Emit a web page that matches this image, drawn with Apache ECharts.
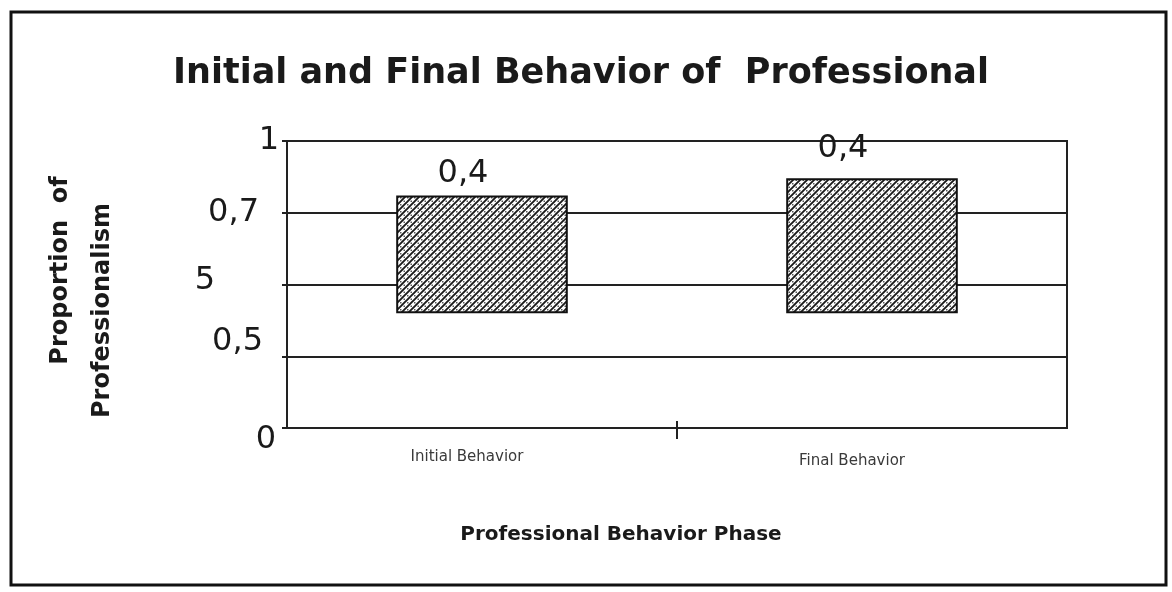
<!DOCTYPE html>
<html>
<head>
<meta charset="utf-8">
<script src="https://cdn.jsdelivr.net/npm/echarts@6/dist/echarts.min.js"></script>
<style>
  html, body { margin: 0; padding: 0; background: #fff; }
  #chart { width: 1172px; height: 592px; }
</style>
</head>
<body>
<div id="chart"></div>
<script>
// data
const categories = ['Initial Behavior', 'Final Behavior']
const barBase = [0.4, 0.4]       // floating bars start here
const barHeight = [0.41, 0.47]   // visible part of each bar
const barLabels = ['0,4', '0,4']
const yTicks = [0, 0.25, 0.5, 0.75, 1]
const yTickLabels = ['0', '0,5', '5', '0,7', '1']

// hatch pattern for the bars ("/" lines with dots between)
function makeHatch() {
  const s = 7
  const c = document.createElement('canvas')
  c.width = s
  c.height = s
  const g = c.getContext('2d')
  g.fillStyle = '#fff'
  g.fillRect(0, 0, s, s)
  g.strokeStyle = '#1a1a1a'
  g.lineWidth = 1.9
  g.beginPath()
  g.moveTo(-1, s + 1); g.lineTo(s + 1, -1)
  g.moveTo(-2, 2); g.lineTo(2, -2)
  g.moveTo(s - 2, s + 2); g.lineTo(s + 2, s - 2)
  g.stroke()
  g.fillStyle = '#555'
  g.fillRect(1, 1, 1.5, 1.5)
  g.fillRect(4.5, 4.5, 1.5, 1.5)
  return c
}

const numFont = 'DejaVu Sans'
const boldFont = 'DejaVu Sans'

// per-label nudges, the scan puts them slightly off the ticks
const tickRich = {
  t0: { padding: [24, 3, 0, 0] },
  t1: { padding: [0, 16, 30, 0] },
  t2: { padding: [0, 64, 8, 0] },
  t3: { padding: [0, 20, 0, 0] },
  t4: { padding: [0, 0, 0, 0] }
}
Object.keys(tickRich).forEach(k => {
  tickRich[k].fontSize = 32
  tickRich[k].fontFamily = numFont
  tickRich[k].color = '#1a1a1a'
})

// category labels sit a little left of the bar centres
const catRich = {
  c0: { padding: [0, 30, 0, 0] },
  c1: { padding: [4, 40, 0, 0] }
}
Object.keys(catRich).forEach(k => {
  catRich[k].fontSize = 15
  catRich[k].fontFamily = 'DejaVu Sans'
  catRich[k].color = '#3a3a3a'
})

// the two lines of the y title are not centred on each other
const yNameRich = {
  a: { padding: [0, 0, 0, 40] },
  b: { padding: [0, 40, 0, 0] }
}
Object.keys(yNameRich).forEach(k => {
  yNameRich[k].fontSize = 24
  yNameRich[k].fontFamily = boldFont
  yNameRich[k].fontWeight = 'bold'
  yNameRich[k].color = '#1a1a1a'
  yNameRich[k].lineHeight = 42
})

const labelNudge = [
  { offset: [-19, 0], distance: 6 },
  { offset: [-29, 0], distance: 14 }
]

const chart = echarts.init(document.getElementById('chart'))

chart.setOption({
  animation: false,
  backgroundColor: '#fff',
  title: {
    text: 'Initial and Final Behavior of  Professional',
    left: 576,
    top: 51,
    textAlign: 'center',
    textStyle: { fontFamily: boldFont, fontWeight: 'bold', fontSize: 35, color: '#1a1a1a' }
  },
  grid: {
    left: 287, right: 105, top: 141, bottom: 164,
    show: true, borderColor: '#222', borderWidth: 2, backgroundColor: 'transparent'
  },
  xAxis: [
    {
      type: 'category',
      data: categories,
      name: 'Professional Behavior Phase',
      nameLocation: 'middle',
      nameGap: 97,
      nameTextStyle: {
        fontFamily: boldFont, fontWeight: 'bold', fontSize: 20, color: '#1a1a1a',
        padding: [0, 112, 0, 0]
      },
      axisLine: { lineStyle: { color: '#222', width: 2 } },
      axisTick: { show: false },
      axisLabel: {
        margin: 22,
        formatter: (v, i) => '{c' + i + '|' + v + '}',
        rich: catRich
      }
    },
    {
      // only carries the single tick between the two phases
      type: 'value',
      position: 'bottom',
      offset: -7,
      min: 0,
      max: 2,
      axisLine: { show: false },
      axisLabel: { show: false },
      splitLine: { show: false },
      axisTick: { show: true, length: 18, customValues: [1], lineStyle: { color: '#222', width: 2 } }
    }
  ],
  yAxis: {
    type: 'value',
    min: 0,
    max: 1,
    interval: 0.25,
    name: '{a|Proportion  of}\n{b|Professionalism}',
    nameLocation: 'middle',
    nameGap: 163,
    nameRotate: 90,
    nameTextStyle: {
      rich: yNameRich,
      padding: [0, 12, 0, 0]
    },
    axisLine: { show: true, lineStyle: { color: '#222', width: 2 } },
    axisTick: { show: true, length: 5, lineStyle: { color: '#222', width: 2 } },
    splitLine: { lineStyle: { color: '#222', width: 2 } },
    axisLabel: {
      margin: 8,
      formatter: v => {
        const i = yTicks.indexOf(v)
        return i < 0 ? '' : '{t' + i + '|' + yTickLabels[i] + '}'
      },
      rich: tickRich
    }
  },
  series: [
    {
      type: 'bar',
      stack: 'b',
      data: barBase,
      barWidth: '44%',
      itemStyle: { color: 'transparent' },
      silent: true
    },
    {
      type: 'bar',
      stack: 'b',
      data: barHeight.map((v, i) => ({
        value: v,
        label: { offset: labelNudge[i].offset, distance: labelNudge[i].distance }
      })),
      itemStyle: {
        color: { image: makeHatch(), repeat: 'repeat' },
        borderColor: '#111',
        borderWidth: 2
      },
      label: {
        show: true,
        position: 'top',
        fontFamily: numFont,
        fontSize: 32,
        color: '#1a1a1a',
        formatter: p => barLabels[p.dataIndex]
      }
    }
  ],
  graphic: [
    {
      type: 'rect',
      shape: { x: 11, y: 12, width: 1155, height: 573 },
      style: { fill: 'none', stroke: '#111', lineWidth: 3 },
      silent: true
    }
  ]
})
</script>
</body>
</html>
